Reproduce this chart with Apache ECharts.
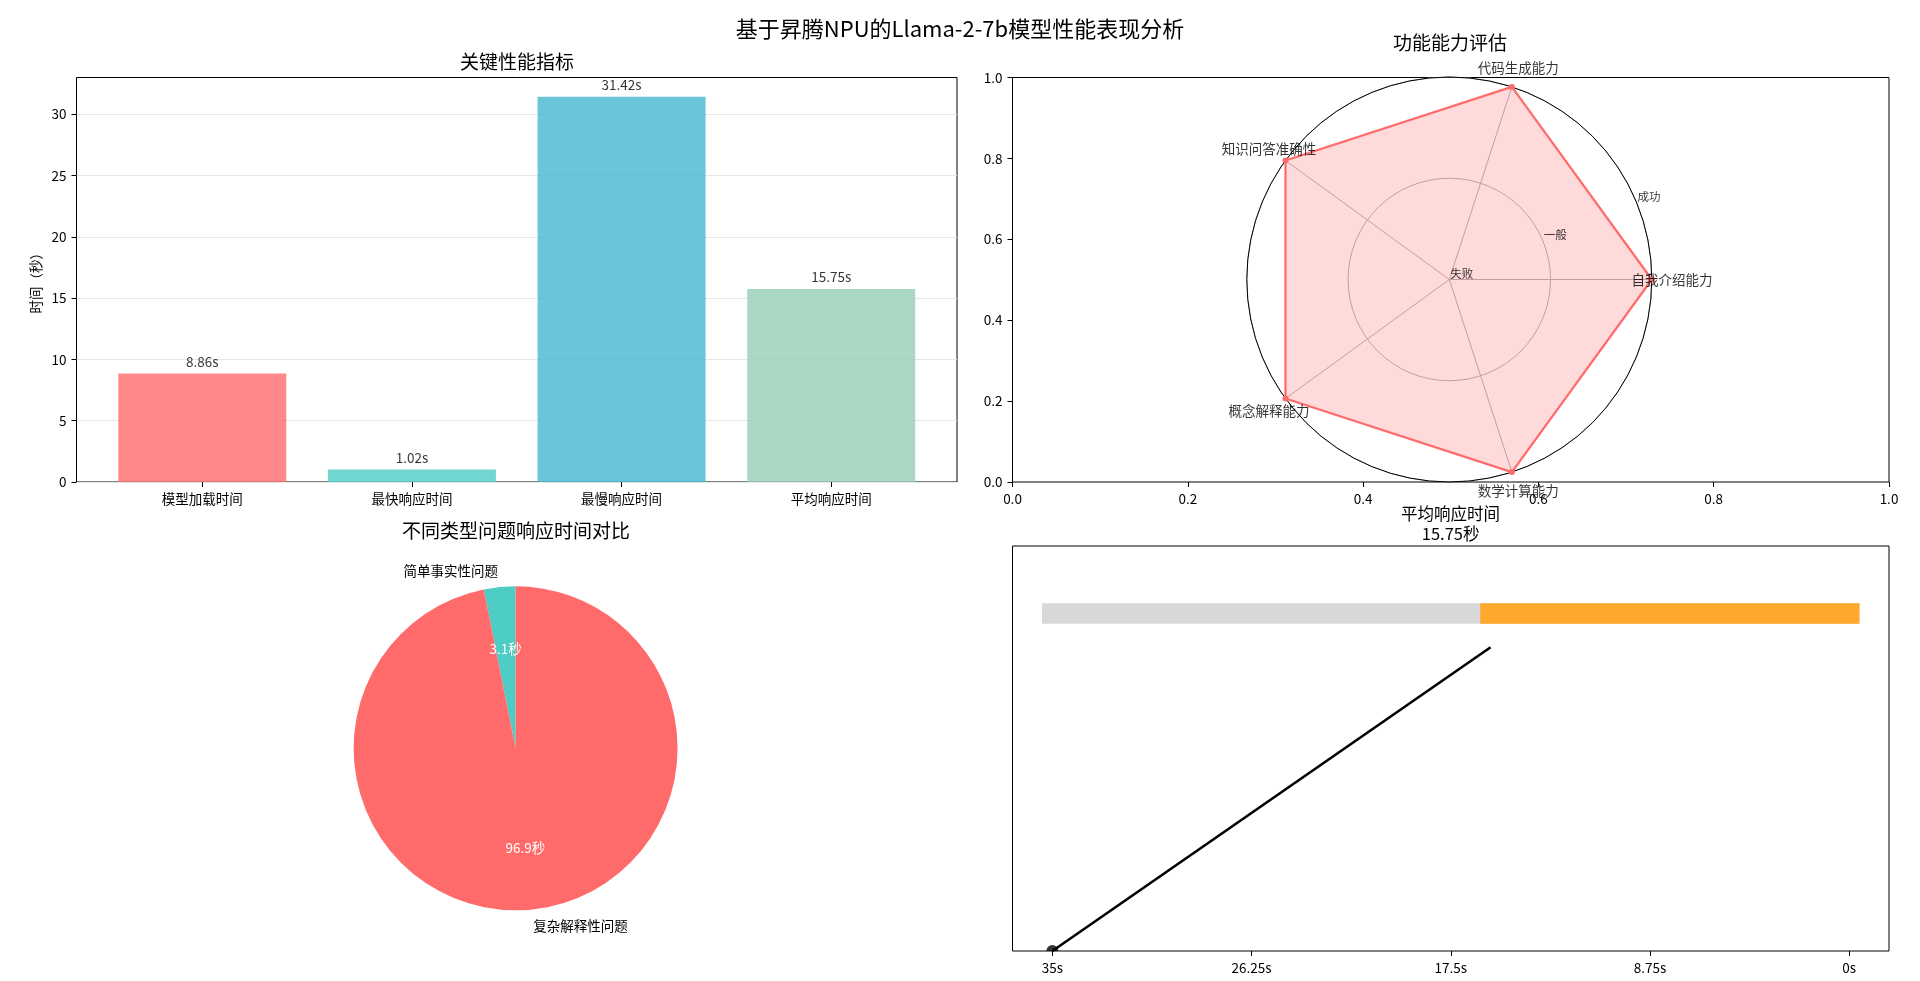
<!DOCTYPE html>
<html>
<head>
<meta charset="utf-8">
<title>基于昇腾NPU的Llama-2-7b模型性能表现分析</title>
<script src="https://cdn.jsdelivr.net/npm/echarts@6/dist/echarts.min.js"></script>
<style>
  html, body { margin: 0; padding: 0; background: #fff; }
  #main { width: 1920px; height: 981px; }
</style>
</head>
<body>
<div id="main"></div>
<script>
// 关键性能指标
var metricNames = ['模型加载时间', '最快响应时间', '最慢响应时间', '平均响应时间'];
var metricValues = [8.86, 1.02, 31.42, 15.75];
var metricColors = ['#FF6B6B', '#4ECDC4', '#45B7D1', '#96CEB4'];
var metricTicks = [0, 5, 10, 15, 20, 25, 30];

// 功能能力评估
var abilityNames = ['自我介绍能力', '代码生成能力', '知识问答准确性', '概念解释能力', '数学计算能力'];
var abilityScores = [1, 1, 1, 1, 1];
var levelValues = [0, 0.5, 1];
var levelNames = ['失败', '一般', '成功'];

// 不同类型问题响应时间对比
var questionTypes = ['简单事实性问题', '复杂解释性问题'];
var questionTimes = [1.02, 31.42];
var questionColors = ['#4ECDC4', '#FF6B6B'];

// 平均响应时间
var gaugeMax = 35;
var avgTime = 15.75;
var gaugeTicks = [0, 8.75, 17.5, 26.25, 35];
var gaugeTickLabels = ['0s', '8.75s', '17.5s', '26.25s', '35s'];

var FONT = 'Noto Sans CJK SC';
var chart = echarts.init(document.getElementById('main'));

var radarCenter = [1449.3, 279.5];
var radarRadius = 202.5;
var step = 360 / abilityNames.length;

function titleItem(text, x, y, size, lh) {
    return {
        text: text, left: x, top: y, padding: 0,
        textAlign: 'center', textVerticalAlign: 'middle',
        textStyle: {fontSize: size, fontWeight: 'normal', color: '#000', fontFamily: FONT, lineHeight: lh || size}
    };
}

var tickStyle = {show: true, inside: false, length: 5, lineStyle: {color: '#000', width: 1}};
var labelStyle = {color: '#000', fontSize: 13.5, fontFamily: FONT, margin: 10};
var noLine = {show: false, onZero: false};

var option = {
    animation: false,
    backgroundColor: '#fff',
    textStyle: {fontFamily: FONT},
    title: [
        titleItem('基于昇腾NPU的Llama-2-7b模型性能表现分析', 960, 29, 22),
        titleItem('关键性能指标', 517, 62, 19),
        titleItem('功能能力评估', 1450, 43, 19),
        titleItem('不同类型问题响应时间对比', 516, 531, 19),
        titleItem('平均响应时间\n' + avgTime + '秒', 1450.6, 523.3, 16.5, 20)
    ],
    grid: [
        {left: 76.5, top: 77.5, width: 880.5, height: 404.5, show: true, borderColor: '#000', borderWidth: 1},
        {left: 1012.5, top: 77.5, width: 876.5, height: 404.5, show: true, borderColor: '#000', borderWidth: 1},
        {left: 1012.5, top: 546, width: 876.5, height: 405, show: true, borderColor: '#000', borderWidth: 1}
    ],
    xAxis: [
        {
            gridIndex: 0, type: 'value', min: -0.6, max: 3.6,
            axisLine: noLine, splitLine: {show: false},
            axisTick: Object.assign({customValues: [0, 1, 2, 3]}, tickStyle),
            axisLabel: Object.assign({customValues: [0, 1, 2, 3], formatter: function (v) { return metricNames[Math.round(v)]; }}, labelStyle)
        },
        {
            gridIndex: 1, type: 'value', min: 0, max: 1, interval: 0.2,
            axisLine: noLine, splitLine: {show: false},
            axisTick: tickStyle,
            axisLabel: Object.assign({formatter: function (v) { return v.toFixed(1); }}, labelStyle)
        },
        {
            gridIndex: 2, type: 'value', min: -1.75, max: 36.75, inverse: true,
            axisLine: noLine, splitLine: {show: false},
            axisTick: Object.assign({customValues: gaugeTicks}, tickStyle),
            axisLabel: Object.assign({customValues: gaugeTicks, formatter: function (v) { return gaugeTickLabels[gaugeTicks.indexOf(v)]; }}, labelStyle)
        }
    ],
    yAxis: [
        {
            gridIndex: 0, type: 'value', min: 0, max: 33, interval: 5,
            name: '时间（秒）', nameLocation: 'middle', nameGap: 34,
            nameTextStyle: {color: '#000', fontSize: 13.5, fontFamily: FONT},
            axisLine: noLine,
            axisTick: Object.assign({customValues: metricTicks}, tickStyle),
            axisLabel: Object.assign({customValues: metricTicks}, labelStyle),
            splitLine: {show: true, lineStyle: {color: '#e7e7e7', width: 1}}
        },
        {
            gridIndex: 1, type: 'value', min: 0, max: 1, interval: 0.2,
            axisLine: noLine, splitLine: {show: false},
            axisTick: tickStyle,
            axisLabel: Object.assign({formatter: function (v) { return v.toFixed(1); }}, labelStyle)
        },
        {gridIndex: 2, type: 'value', min: 0, max: 1.2, show: false, axisLine: noLine}
    ],
    polar: {center: radarCenter, radius: radarRadius},
    angleAxis: {
        type: 'value', min: 0, max: 360, interval: step, startAngle: 0, clockwise: false, z: 3,
        axisLine: {show: true, lineStyle: {color: '#000', width: 1}},
        axisTick: {show: false}, axisLabel: {show: false},
        splitLine: {show: true, lineStyle: {color: '#b0b0b0', width: 1}}
    },
    radiusAxis: {
        type: 'value', min: 0, max: 1, interval: 0.5, z: 1,
        axisLine: {show: false}, axisTick: {show: false}, axisLabel: {show: false},
        splitLine: {show: true, lineStyle: {color: '#b0b0b0', width: 1}}
    },
    radar: {
        indicator: abilityNames.map(function (n) { return {name: n, min: 0, max: 1}; }),
        center: radarCenter, radius: radarRadius, startAngle: 0, shape: 'circle', splitNumber: 2,
        axisName: {show: false}, axisLine: {show: false}, splitLine: {show: false},
        splitArea: {show: false}, axisTick: {show: false}, axisLabel: {show: false}
    },
    series: [
        {
            type: 'bar', xAxisIndex: 0, yAxisIndex: 0, barWidth: 168, z: 3,
            data: metricValues.map(function (v, i) {
                return {value: [i, v], itemStyle: {color: metricColors[i], opacity: 0.8}};
            }),
            label: {
                show: true, position: 'top', distance: 5, color: '#000', fontSize: 13.5, fontFamily: FONT,
                formatter: function (p) { return p.value[1].toFixed(2) + 's'; }
            }
        },
        {
            type: 'radar', z: 5, symbol: 'circle', symbolSize: 6,
            lineStyle: {color: '#FF6B6B', width: 2.2},
            itemStyle: {color: '#FF6B6B'},
            areaStyle: {color: '#FF6B6B', opacity: 0.25},
            data: [{value: abilityScores, name: '能力'}]
        },
        {
            type: 'scatter', coordinateSystem: 'polar', z: 6, symbolSize: 0, clip: false, silent: true,
            data: abilityNames.map(function (n, i) { return {name: n, value: [1.1, i * step]}; }),
            label: {show: true, position: 'inside', formatter: '{b}', color: '#000', fontSize: 13.5, fontFamily: FONT}
        },
        {
            type: 'scatter', coordinateSystem: 'polar', z: 6, symbolSize: 0, clip: false, silent: true,
            data: levelNames.map(function (n, i) { return {name: n, value: [levelValues[i], 22.5]}; }),
            label: {show: true, position: [1, 0], align: 'left', verticalAlign: 'bottom', formatter: '{b}', color: '#000', fontSize: 11.5, fontFamily: FONT}
        },
        {
            type: 'pie', center: [515.6, 748.3], radius: 162, startAngle: 90, clockwise: false,
            avoidLabelOverlap: false, silent: true,
            data: questionTypes.map(function (n, i) {
                return {name: n, value: questionTimes[i], itemStyle: {color: questionColors[i]}};
            }),
            label: {show: true, position: 'outside', formatter: '{b}', color: '#000', fontSize: 13.5, fontFamily: FONT, distanceToLabelLine: 0},
            labelLine: {show: false, length: 16.2, length2: 0}
        },
        {
            type: 'pie', center: [515.6, 748.3], radius: [0, 194.4], startAngle: 90, clockwise: false,
            avoidLabelOverlap: false, silent: true,
            itemStyle: {color: 'transparent'},
            data: questionTypes.map(function (n, i) { return {name: n, value: questionTimes[i]}; }),
            label: {
                show: true, position: 'inside', color: '#fff', fontSize: 13.5, fontFamily: FONT,
                formatter: function (p) { return p.percent.toFixed(1) + '秒'; }
            },
            labelLine: {show: false}
        },
        {
            type: 'line', xAxisIndex: 2, yAxisIndex: 2, symbol: 'none', silent: true,
            lineStyle: {color: '#D8D8D8', width: 20.6, cap: 'square'},
            data: [[gaugeMax, 1], [0, 1]]
        },
        {
            type: 'line', xAxisIndex: 2, yAxisIndex: 2, symbol: 'none', silent: true,
            lineStyle: {color: '#FFA82B', width: 20.6, cap: 'square'},
            data: [[avgTime, 1], [0, 1]]
        },
        {
            type: 'line', xAxisIndex: 2, yAxisIndex: 2, symbol: 'none', silent: true,
            lineStyle: {color: '#000', width: 2.6},
            data: [[gaugeMax, 0], [avgTime, 0.9]]
        },
        {
            type: 'scatter', xAxisIndex: 2, yAxisIndex: 2, silent: true, clip: false,
            symbol: 'path://M0 10 A10 10 0 0 1 20 10 Z', symbolSize: [12, 6], symbolOffset: [0, -3],
            itemStyle: {color: '#000'},
            data: [[gaugeMax, 0]]
        }
    ]
};

chart.setOption(option);
</script>
</body>
</html>
